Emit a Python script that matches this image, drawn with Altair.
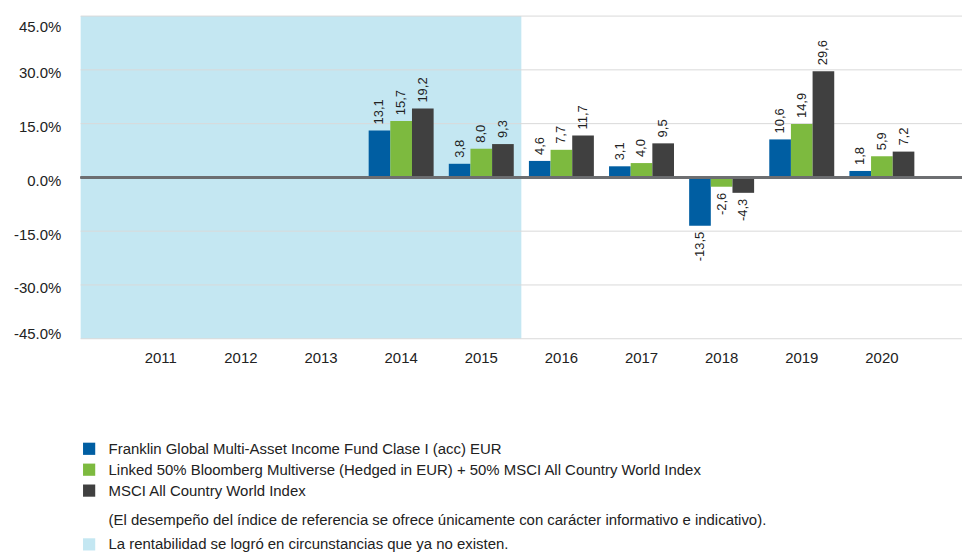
import altair as alt
import pandas as pd

FONT = "Liberation Sans"

years = ["2011", "2012", "2013", "2014", "2015", "2016", "2017", "2018", "2019", "2020"]
fund = [None, None, None, 13.1, 3.8, 4.6, 3.1, -13.5, 10.6, 1.8]
linked = [None, None, None, 15.7, 8.0, 7.7, 4.0, -2.6, 14.9, 5.9]
msci = [None, None, None, 19.2, 9.3, 11.7, 9.5, -4.3, 29.6, 7.2]

series_names = [
    "Franklin Global Multi-Asset Income Fund Clase I (acc) EUR",
    "Linked 50% Bloomberg Multiverse (Hedged in EUR) + 50% MSCI All Country World Index",
    "MSCI All Country World Index",
]
series_colors = ["#005ea2", "#7dba3f", "#404040"]
y_ticks = [-45, -30, -15, 0, 15, 30, 45]

shade_end_year = "2015"
shade_label = "La rentabilidad se logró en circunstancias que ya no existen."
note_label = "(El desempeño del índice de referencia se ofrece únicamente con carácter informativo e indicativo)."
shade_color = "#c4e7f2"

rows = []
for name, vals in zip(series_names, [fund, linked, msci]):
    for yr, v in zip(years, vals):
        if v is not None:
            rows.append({"year": yr, "series": name, "value": v})
df = pd.DataFrame(rows)

x_scale = alt.Scale(domain=years, paddingInner=0, paddingOuter=0.5)
x_axis = alt.Axis(title=None, labelAngle=0, ticks=False, domain=False, labelPadding=12,
                  labelFontSize=15, labelFont=FONT, labelColor="#222222")
y_scale = alt.Scale(domain=[min(y_ticks), max(y_ticks)], nice=False)
y_axis = alt.Axis(title=None, values=y_ticks, ticks=False, domain=False, grid=False,
                  labelExpr="replace(format(datum.value, '.1f'), '\u2212', '-') + '%'",
                  labelPadding=20,
                  labelFontSize=15, labelFont=FONT, labelColor="#222222",
                  labelFlush=True, labelOffset=3)

shade_df = pd.DataFrame({"year": [shade_end_year], "shade": [shade_label]})
shade = alt.Chart(shade_df).mark_rect().encode(
    x=alt.X("year:N", bandPosition=1, scale=x_scale, axis=x_axis),
    x2=alt.value(0),
    y=alt.datum(max(y_ticks), type="quantitative", scale=y_scale, axis=y_axis),
    y2=alt.datum(min(y_ticks)),
    fill=alt.Fill("shade:N",
                  scale=alt.Scale(domain=[note_label, shade_label], range=["#ffffff", shade_color]),
                  legend=alt.Legend(title=None, orient="none", legendX=1, legendY=499,
                                    symbolType="square", symbolSize=150, symbolStrokeWidth=0,
                                    labelFontSize=15, labelFont=FONT, labelColor="#222222",
                                    labelLimit=0, rowPadding=8, labelOffset=12, padding=0)),
)

grid_df = pd.DataFrame({"tick": y_ticks})
grid = alt.Chart(grid_df).mark_rule(color="#d9d9d9", strokeWidth=1).encode(
    y=alt.Y("tick:Q", scale=y_scale, axis=y_axis)
)

offset_scale = alt.Scale(domain=series_names, paddingInner=0, paddingOuter=0.35)

bars = alt.Chart(df).mark_bar().encode(
    x=alt.X("year:N", scale=x_scale, axis=x_axis),
    xOffset=alt.XOffset("series:N", sort=series_names, scale=offset_scale),
    y=alt.Y("value:Q", scale=y_scale, axis=y_axis),
    color=alt.Color("series:N",
                    scale=alt.Scale(domain=series_names, range=series_colors),
                    legend=alt.Legend(title=None, orient="none", legendX=1, legendY=427,
                                      symbolType="square", symbolSize=150, symbolStrokeWidth=0,
                                      labelFontSize=15, labelFont=FONT, labelColor="#222222",
                                      labelLimit=0, rowPadding=5, labelOffset=12, padding=0)),
)

text_base = alt.Chart(df).transform_calculate(
    label="replace(replace(format(datum.value, '.1f'), '.', ','), '\u2212', '-')"
)
text_enc = dict(
    x=alt.X("year:N", scale=x_scale, axis=x_axis),
    xOffset=alt.XOffset("series:N", sort=series_names, scale=offset_scale),
    y=alt.Y("value:Q", scale=y_scale, axis=y_axis),
    text=alt.Text("label:N"),
)
pos_text = text_base.transform_filter("datum.value >= 0").mark_text(
    angle=270, align="left", baseline="middle", dx=6, fontSize=13, font=FONT, color="#222222"
).encode(**text_enc)
neg_text = text_base.transform_filter("datum.value < 0").mark_text(
    angle=270, align="right", baseline="middle", dx=-6, fontSize=13, font=FONT, color="#222222"
).encode(**text_enc)

zero = alt.Chart(grid_df).mark_rule(color="#6d6e71", strokeWidth=2).encode(
    y=alt.datum(0, type="quantitative", scale=y_scale, axis=y_axis)
)

chart = alt.layer(shade, grid, bars, zero, pos_text, neg_text).resolve_scale(
    fill="independent", color="independent"
).properties(
    width=885, height=324,
    autosize=alt.AutoSizeParams(type="none"),
    padding={"left": 81, "top": 15, "right": 0, "bottom": 213},
    background="white",
).configure_view(stroke=None)

chart.save("out.html", embed_options={"renderer": "svg", "actions": False})
